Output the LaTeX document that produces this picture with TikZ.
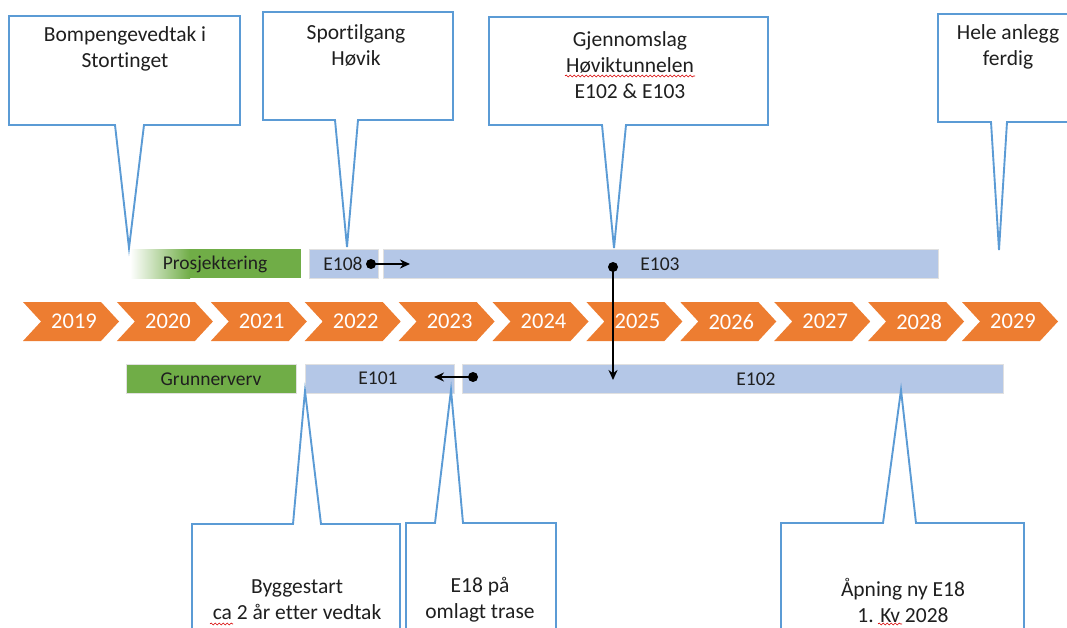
\documentclass[tikz,border=0pt]{standalone}
\usepackage{fontspec}
\setmainfont{Carlito}[Ligatures=NoCommon]
\usetikzlibrary{arrows.meta,decorations.pathmorphing}
\definecolor{calblue}{HTML}{5B9BD5}
\definecolor{yearorange}{HTML}{ED7D31}
\definecolor{barblue}{HTML}{B4C7E7}
\definecolor{bargreen}{HTML}{70AD47}
\begin{document}
\begin{tikzpicture}[x=1pt,y=-1pt,
  callout/.style={draw=calblue, line width=1.9pt, fill=white, line join=miter},
  ctext/.style={font=\fontsize{21.5}{26}\selectfont, align=center, text=black!88, inner sep=0pt},
  bar/.style={fill=barblue, draw=black!12, line width=0.6pt, inner sep=0pt, anchor=north west, minimum height=29pt},
  greenbar/.style={bar, fill=bargreen},
  btext/.style={font=\fontsize{19.5}{22}\selectfont, text=black!88, inner sep=0pt},
  ytext/.style={font=\fontsize{22.5}{24}\selectfont, text=white, inner sep=0pt},
  conn/.style={line width=2.2pt, black, -{Stealth[length=10pt,width=9pt]}},
  squiggle/.style={red!85!black, line width=0.6pt, decorate, decoration={snake, amplitude=1pt, segment length=4pt}}
]
\useasboundingbox (0,0) rectangle (1067,628);
\clip (0,0) rectangle (1067,628);

% ---- year chevrons ----
\foreach \i/\yr in {0/2019,1/2020,2/2021,3/2022,4/2023,5/2024,6/2025,7/2026,8/2027,9/2028,10/2029}{
  \pgfmathsetmacro\L{23+93.9*\i}
  \fill[yearorange] (\L,302) -- ++(78,0) -- ++(18,19.5) -- ++(-18,19.5) -- ++(-78,0) -- ++(18,-19.5) -- cycle;
  \node[ytext] (y\yr) at (\L+51,321.5) {\yr};
}

% ---- bars, upper row ----
\shade[left color=white, right color=bargreen] (130,249) rectangle (190,278);
\fill[bargreen] (189.5,249) rectangle (301,278);
\node[inner sep=0pt, anchor=north west, minimum width=171pt, minimum height=29pt] (pros) at (130,249) {};
\node[btext] (prost) at (215,264) {Prosjektering};
\node[bar, minimum width=69pt] (e108) at (309,249) {};
\node[btext] (e108t) at (343,264) {E108};
\node[bar, minimum width=555pt] (e103) at (383,249) {};
\node[btext] (e103t) at (660,264) {E103};

% ---- bars, lower row ----
\node[greenbar, minimum width=170pt] (grun) at (126,364) {};
\node[btext] (grunt) at (211,379) {Grunnerverv};
\node[bar, minimum width=149pt] (e101) at (305,364) {};
\node[btext] (e101t) at (378,378) {E101};
\node[bar, minimum width=541pt] (e102) at (462,364) {};
\node[btext] (e102t) at (756,379) {E102};

% ---- arrows ----
\coordinate (d1) at (371,264); \coordinate (a1) at (410,264);
\draw[conn] (d1) -- (a1); \fill (d1) circle (5);
\coordinate (d2) at (613,267); \coordinate (a2) at (613,380);
\draw[conn] (d2) -- (a2); \fill (d2) circle (5);
\coordinate (d3) at (473,377); \coordinate (a3) at (434,377);
\draw[conn] (d3) -- (a3); \fill (d3) circle (5);

% ---- upper callouts ----
\coordinate (t1) at (129,248);
\draw[callout] (9,16) -- (240,16) -- (240,125) -- (144,125) -- (t1) -- (115,125) -- (9,125) -- cycle;
\node[ctext] (c1) at (125,49) {Bompengevedtak i\\Stortinget};

\coordinate (t2) at (347,247);
\draw[callout] (263,12) -- (453,12) -- (453,120) -- (358,120) -- (t2) -- (335,120) -- (263,120) -- cycle;
\node[ctext] (c2) at (356,45) {Sportilgang\\Høvik};

\coordinate (t3) at (614,248);
\draw[callout] (489,17) -- (768,17) -- (768,125) -- (626,125) -- (t3) -- (602,125) -- (489,125) -- cycle;
\node[ctext] (c3) at (630,65) {Gjennomslag\\Høviktunnelen\\E102 \& E103};
\draw[squiggle] (565,76) -- (695,76);

\coordinate (t4) at (999,250);
\draw[callout] (938,14) -- (1075,14) -- (1075,122) -- (1007,122) -- (t4) -- (991,122) -- (938,122) -- cycle;
\node[ctext] (c4) at (1008,47) {Hele anlegg\\ferdig};

% ---- lower callouts ----
\coordinate (t5) at (305,391);
\filldraw[callout] (192,640) -- (192,524) -- (293,524) -- (t5) -- (321,524) -- (400,524) -- (400,640);
\node[ctext] (c5) at (297,600) {Byggestart\\ca 2 år etter vedtak};
\draw[squiggle] (210,624) -- (233,624);

\coordinate (t6) at (451,390);
\filldraw[callout] (406,640) -- (406,523) -- (435,523) -- (t6) -- (463,523) -- (556,523) -- (556,640);
\node[ctext] (c6) at (480,600) {E18 på\\omlagt trase};

\coordinate (t7) at (901,390);
\filldraw[callout] (781,640) -- (781,523) -- (883,523) -- (t7) -- (916,523) -- (1024,523) -- (1024,640);
\node[ctext] (c7) at (903,600) {Åpning ny E18\\1. Kv 2028};
\draw[squiggle] (878,624) -- (902,624);
\end{tikzpicture}
\end{document}
